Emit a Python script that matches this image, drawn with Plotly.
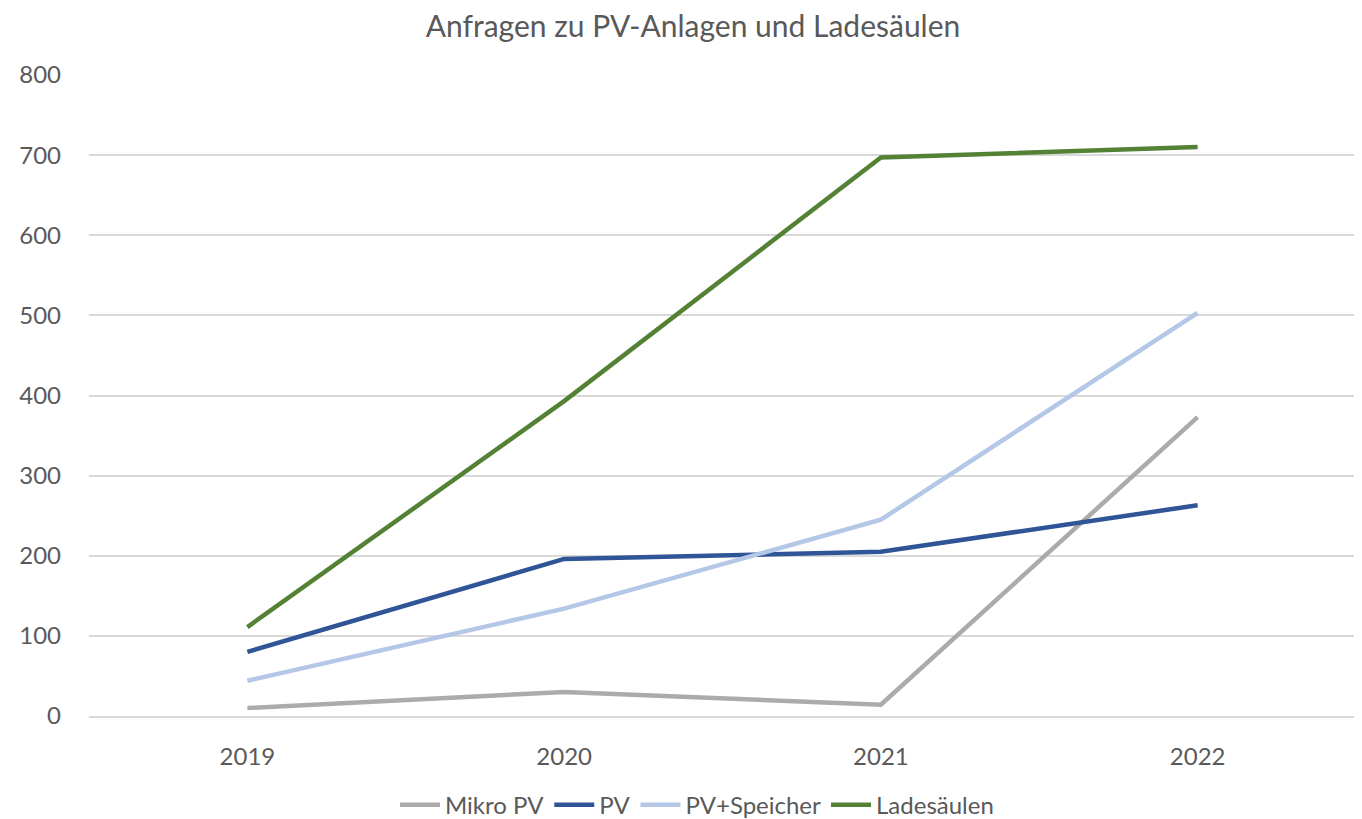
import plotly.graph_objects as go

years = ["2019", "2020", "2021", "2022"]
mikro_pv = [10, 30, 14, 373]
pv = [80, 196, 205, 263]
pv_speicher = [44, 134, 245, 503]
ladesaeulen = [111, 393, 697, 710]

series = [
    ("Mikro PV", mikro_pv, "#ADAAAA"),
    ("PV", pv, "#2F5597"),
    ("PV+Speicher", pv_speicher, "#B4C7E7"),
    ("Ladesäulen", ladesaeulen, "#548235"),
]

font_family = "Lato, 'Open Sans', sans-serif"

fig = go.Figure()
for name, vals, color in series:
    fig.add_trace(go.Scatter(
        x=years, y=vals, name=name, mode="lines",
        line=dict(color=color, width=4.5),
    ))

fig.update_layout(
    width=1362, height=819,
    paper_bgcolor="white", plot_bgcolor="white",
    margin=dict(l=81, r=14, t=67, b=111, autoexpand=False),
    title=dict(text="Anfragen zu PV-Anlagen und Ladesäulen", x=685 / 1362, xanchor="center",
               y=1 - 18 / 819, yanchor="middle",
               font=dict(family=font_family, size=30, color="#595959")),
    font=dict(family=font_family, color="#595959", size=24),
    xaxis=dict(type="category", showgrid=False, showline=True, linecolor="#D9D9D9",
               linewidth=1.5, ticks="", tickfont=dict(size=24, color="#595959"),
               range=[-0.5, 3.5], ticklabelstandoff=18),
    yaxis=dict(range=[0, 800], dtick=100, showgrid=True, gridcolor="#D9D9D9",
               gridwidth=1.5, zeroline=False, showline=False, ticks="",
               tickfont=dict(size=24, color="#595959"), ticklabelstandoff=27),
    legend=dict(orientation="h", x=(689 - 81) / (1348 - 81), xanchor="center", y=-0.139,
                yanchor="middle", font=dict(size=24, color="#595959"), itemwidth=40,
                traceorder="normal"),
    showlegend=True,
)

fig.write_html("out.html")
